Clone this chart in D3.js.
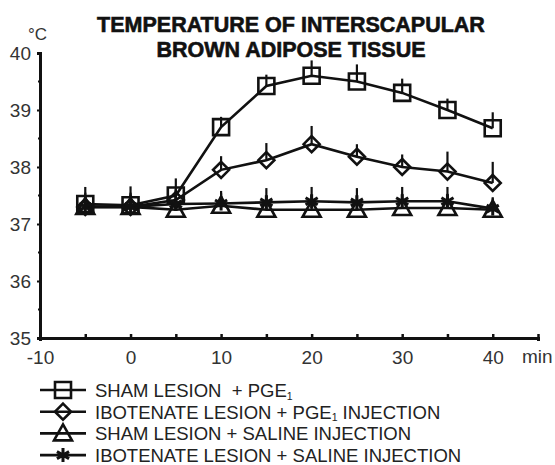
<!DOCTYPE html>
<html>
<head>
<meta charset="utf-8">
<script src="https://cdn.jsdelivr.net/npm/d3@7"></script>
<style>
  body { margin: 0; background: #fff; }
  svg { display: block; }
</style>
</head>
<body>
<div id="chart"></div>
<script>

// time points (min) and the four groups
var times = [-5, 0, 5, 10, 15, 20, 25, 30, 35, 40];

var shamPge    = [37.35, 37.33, 37.5, 38.7, 39.42, 39.6, 39.5, 39.3, 39.0, 38.68];
var shamPgeErr = [0.3, 0.33, 0.3, 0.18, 0.2, 0.27, 0.3, 0.25, 0.2, 0.28];

var iboPge     = [37.3, 37.3, 37.42, 37.95, 38.12, 38.4, 38.18, 38.0, 37.92, 37.72];
var iboPgeErr  = [0.2, 0.2, 0.2, 0.24, 0.3, 0.32, 0.22, 0.22, 0.35, 0.37];

var shamSal    = [37.3, 37.3, 37.25, 37.32, 37.25, 37.25, 37.25, 37.28, 37.28, 37.25];
var shamSalErr = [0.25, 0.25, 0.2, 0.22, 0.25, 0.25, 0.25, 0.25, 0.25, 0.2];

var iboSal     = [37.3, 37.3, 37.35, 37.36, 37.38, 37.4, 37.38, 37.4, 37.4, 37.27];
var iboSalErr  = [0.2, 0.22, 0.25, 0.22, 0.25, 0.25, 0.25, 0.25, 0.25, 0.2];

var yTicks = [35, 36, 37, 38, 39, 40];
var xTicks = [-10, 0, 10, 20, 30, 40];

var titleLines = ["TEMPERATURE OF INTERSCAPULAR", "BROWN ADIPOSE TISSUE"];

// legend texts, [main, subscript, rest]
var legendTexts = [
	["SHAM LESION\u00a0\u00a0+ PGE", "1", ""],
	["IBOTENATE LESION + PGE", "1", " INJECTION"],
	["SHAM LESION + SALINE INJECTION", "", ""],
	["IBOTENATE LESION + SALINE INJECTION", "", ""]
];

var markerKinds = ["square", "diamond", "triangle", "star"];

var series = [
	{ values: shamPge, err: shamPgeErr, kind: "square" },
	{ values: iboPge,  err: iboPgeErr,  kind: "diamond" },
	{ values: shamSal, err: shamSalErr, kind: "triangle" },
	{ values: iboSal,  err: iboSalErr,  kind: "star" }
];


var width = 555;
var height = 465;

var svg = d3.select("#chart")
	.append("svg")
	.attr("width", width)
	.attr("height", height);

var xScale = d3.scaleLinear().domain([-10, 45]).range([40, 538]);
var yScale = d3.scaleLinear().domain([35, 40]).range([338, 53]);

var ink = "#111";
var fontFam = "'Liberation Sans', Arial, sans-serif";

// marker shapes as paths, centred on 0,0
function markerPath(kind) {
	if (kind == "square") {
		return "M-8,-8H8V8H-8Z";
	} else if (kind == "diamond") {
		return "M0,-8L8,0L0,8L-8,0Z";
	} else if (kind == "triangle") {
		return "M0,-9L9,7H-9Z";
	} else {
		// six armed asterisk
		var p = "";
		for (var a = 0; a < 3; a++) {
			var ang = Math.PI / 2 + a * Math.PI / 3;
			var dx = 7 * Math.cos(ang), dy = 7 * Math.sin(ang);
			p += "M" + (-dx) + "," + (-dy) + "L" + dx + "," + dy;
		}
		return p;
	}
}


// title
svg.selectAll(".title")
	.data(titleLines)
	.enter()
	.append("text")
	.attr("class", "title")
	.attr("x", 291)
	.attr("y", function(d, i) { return 32 + i * 25; })
	.attr("text-anchor", "middle")
	.style("font-family", fontFam)
	.style("font-weight", "bold")
	.style("font-size", "21.5px")
	.style("fill", ink)
	.style("stroke", ink)
	.style("stroke-width", 0.6)
	.text(function(d) { return d; });


// y axis
var yAxis = svg.append("g")
	.attr("transform", "translate(" + xScale(-10) + ",0)")
	.call(d3.axisLeft(yScale).tickValues(yTicks).tickSize(3).tickPadding(6)
		.tickFormat(d3.format("d")));

yAxis.select(".domain").attr("stroke", ink).attr("stroke-width", 3);
yAxis.selectAll(".tick line").attr("stroke", ink).attr("stroke-width", 2).attr("x2", -3).attr("x1", 2);
yAxis.selectAll("text")
	.style("font-family", fontFam)
	.style("font-size", "19px")
	.style("fill", "#333");

// minor ticks on y at half degrees
svg.append("g")
	.selectAll("line")
	.data(d3.range(35.5, 40, 1))
	.enter()
	.append("line")
	.attr("x1", xScale(-10) - 2)
	.attr("x2", xScale(-10) + 2)
	.attr("y1", function(d) { return yScale(d); })
	.attr("y2", function(d) { return yScale(d); })
	.attr("stroke", ink)
	.attr("stroke-width", 2);

svg.append("text")
	.attr("x", 28)
	.attr("y", 40)
	.style("font-family", fontFam)
	.style("font-size", "17px")
	.style("fill", "#333")
	.text("\u00b0C");


// x axis
var xAxis = svg.append("g")
	.attr("transform", "translate(0," + yScale(35) + ")")
	.call(d3.axisBottom(xScale).tickValues(d3.range(-10, 46, 5)).tickSizeOuter(0)
		.tickSize(3).tickPadding(10)
		.tickFormat(function(d) { return xTicks.indexOf(d) >= 0 ? d : ""; }));

xAxis.select(".domain").attr("stroke", ink).attr("stroke-width", 3);
xAxis.selectAll(".tick line").attr("stroke", ink).attr("stroke-width", 2.5).attr("y1", -4).attr("y2", 2);
xAxis.selectAll("text")
	.style("font-family", fontFam)
	.style("font-size", "19px")
	.style("fill", "#333");

svg.append("text")
	.attr("x", 522)
	.attr("y", 363)
	.style("font-family", fontFam)
	.style("font-size", "19px")
	.style("fill", "#333")
	.text("min");


// plot series: line, error bar (upward only), then hollow marker
var line = d3.line()
	.x(function(d, i) { return xScale(times[i]); })
	.y(function(d) { return yScale(d); });

var plot = svg.append("g");

series.forEach(function(s) {
	plot.append("path")
		.attr("d", line(s.values))
		.attr("fill", "none")
		.attr("stroke", ink)
		.attr("stroke-width", 2.6);
});

series.forEach(function(s) {
	plot.append("g")
		.selectAll("line")
		.data(s.values)
		.enter()
		.append("line")
		.attr("x1", function(d, i) { return xScale(times[i]); })
		.attr("x2", function(d, i) { return xScale(times[i]); })
		.attr("y1", function(d) { return yScale(d); })
		.attr("y2", function(d, i) { return yScale(d + s.err[i]); })
		.attr("stroke", ink)
		.attr("stroke-width", 2.2);

	plot.append("g")
		.selectAll("path")
		.data(s.values)
		.enter()
		.append("path")
		.attr("transform", function(d, i) {
			return "translate(" + xScale(times[i]) + "," + yScale(d) + ")";
		})
		.attr("d", markerPath(s.kind))
		.attr("fill", "none")
		.attr("stroke", ink)
		.attr("stroke-width", s.kind == "star" ? 3 : 2.6);
});


// legend
var legend = svg.append("g");

var rows = legend.selectAll(".row")
	.data(legendTexts)
	.enter()
	.append("g")
	.attr("class", "row")
	.attr("transform", function(d, i) { return "translate(0," + (390 + i * 21.7) + ")"; });

rows.append("line")
	.attr("x1", 40)
	.attr("x2", 86)
	.attr("stroke", ink)
	.attr("stroke-width", 2.6);

rows.append("path")
	.attr("transform", "translate(63,0)")
	.attr("d", function(d, i) { return markerPath(markerKinds[i]); })
	.attr("fill", "none")
	.attr("stroke", ink)
	.attr("stroke-width", function(d, i) { return markerKinds[i] == "star" ? 3 : 2.6; });

var lt = rows.append("text")
	.attr("x", 95)
	.attr("y", 7)
	.style("font-family", fontFam)
	.style("font-size", "18.5px")
	.style("fill", "#222");

lt.append("tspan").text(function(d) { return d[0]; });
lt.append("tspan")
	.attr("dy", 2.5)
	.style("font-size", "10.5px")
	.text(function(d) { return d[1]; });
lt.append("tspan")
	.attr("dy", function(d) { return d[1] ? -2.5 : 0; })
	.text(function(d) { return d[2]; });

</script>
</body>
</html>
